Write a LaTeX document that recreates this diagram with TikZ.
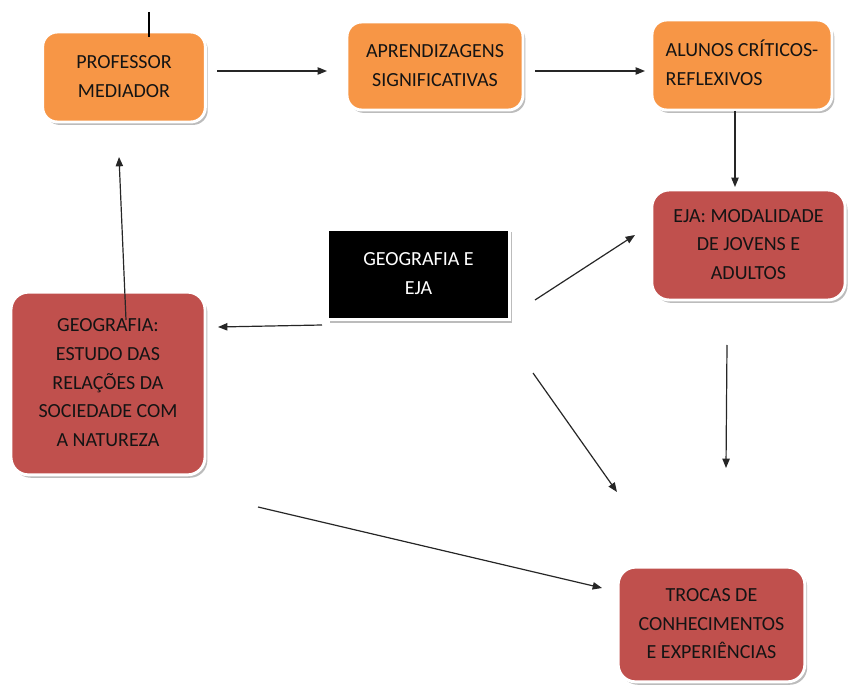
\documentclass[tikz,border=0pt]{standalone}
\usepackage{fontspec}
\setmainfont{Carlito}
\usetikzlibrary{shadows,arrows.meta}
\definecolor{boxorange}{HTML}{F79646}
\definecolor{boxred}{HTML}{C0504D}
\definecolor{txt}{HTML}{141414}
\tikzset{
  basebox/.style={draw=white, line width=2.2pt, align=center, text=txt,
    font=\fontsize{15pt}{21.5pt}\selectfont, inner sep=2pt,
    drop shadow={shadow xshift=1.8pt, shadow yshift=-2.2pt, fill=black!35, opacity=0.75}},
  orangebox/.style={basebox, rounded corners=11pt, fill=boxorange},
  redbox/.style={basebox, rounded corners=13pt, fill=boxred},
  blackbox/.style={basebox, fill=black, text=white},
  conn/.style={line width=0.9pt, draw=black!85, -{Triangle[length=7pt,width=5.5pt]}},
  plainconn/.style={line width=1.2pt, draw=black}
}
\begin{document}
\begin{tikzpicture}[x=0.75pt,y=-0.75pt]
\useasboundingbox (0,0) rectangle (851,688);
% nodes
\node[orangebox, minimum width=122pt, minimum height=67.5pt] (prof) at (124,77)
  {\raisebox{4pt}{\begin{tabular}{@{}c@{}}PROFESSOR\\MEDIADOR\end{tabular}}};
\node[orangebox, minimum width=132pt, minimum height=66pt] (aprend) at (435,66)
  {\raisebox{4pt}{\begin{tabular}{@{}c@{}}APRENDIZAGENS\\SIGNIFICATIVAS\end{tabular}}};
\node[orangebox, minimum width=135pt, minimum height=67.5pt] (alunos) at (742,65)
  {\raisebox{4pt}{\begin{tabular}{@{}l@{}}ALUNOS CRÍTICOS-\\REFLEXIVOS\end{tabular}}};
\node[blackbox, minimum width=137pt, minimum height=68pt] (geoeja) at (418.5,274.5)
  {\raisebox{4pt}{\begin{tabular}{@{}c@{}}GEOGRAFIA E\\EJA\end{tabular}}};
\node[redbox, minimum width=145pt, minimum height=82.5pt] (eja) at (748.5,245)
  {\begin{tabular}{@{}c@{}}EJA: MODALIDADE\\DE JOVENS E\\ADULTOS\end{tabular}};
\node[redbox, minimum width=145.5pt, minimum height=137pt] (geo) at (108,383.5)
  {\begin{tabular}{@{}c@{}}GEOGRAFIA:\\ESTUDO DAS\\RELAÇÕES DA\\SOCIEDADE COM\\A NATUREZA\end{tabular}};
\node[redbox, minimum width=140pt, minimum height=86pt] (trocas) at (711.5,624.5)
  {\begin{tabular}{@{}c@{}}TROCAS DE\\CONHECIMENTOS\\E EXPERIÊNCIAS\end{tabular}};
% connector end points
\coordinate (t0) at (149,12);
\coordinate (t1) at (149,37);
\coordinate (p1s) at (217,71);   \coordinate (p1e) at (327,71);
\coordinate (p2s) at (535,71);   \coordinate (p2e) at (645,71);
\coordinate (p3s) at (735,111);  \coordinate (p3e) at (735,187);
\coordinate (p4s) at (322,325);  \coordinate (p4e) at (218,327);
\coordinate (p5s) at (126,320);  \coordinate (p5e) at (119,157);
\coordinate (p6s) at (535,300);  \coordinate (p6e) at (635,235);
\coordinate (p7s) at (533,373);  \coordinate (p7e) at (617,492);
\coordinate (p8s) at (727,345);  \coordinate (p8e) at (726,468);
\coordinate (p9s) at (258,507);  \coordinate (p9e) at (602,588);
% connectors
\draw[plainconn] (t0) -- (t1);
\draw[conn] (p1s) -- (p1e);
\draw[conn] (p2s) -- (p2e);
\draw[conn] (p3s) -- (p3e);
\draw[conn] (p4s) -- (p4e);
\draw[conn] (p5s) -- (p5e);
\draw[conn] (p6s) -- (p6e);
\draw[conn] (p7s) -- (p7e);
\draw[conn] (p8s) -- (p8e);
\draw[conn] (p9s) -- (p9e);
\end{tikzpicture}
\end{document}
